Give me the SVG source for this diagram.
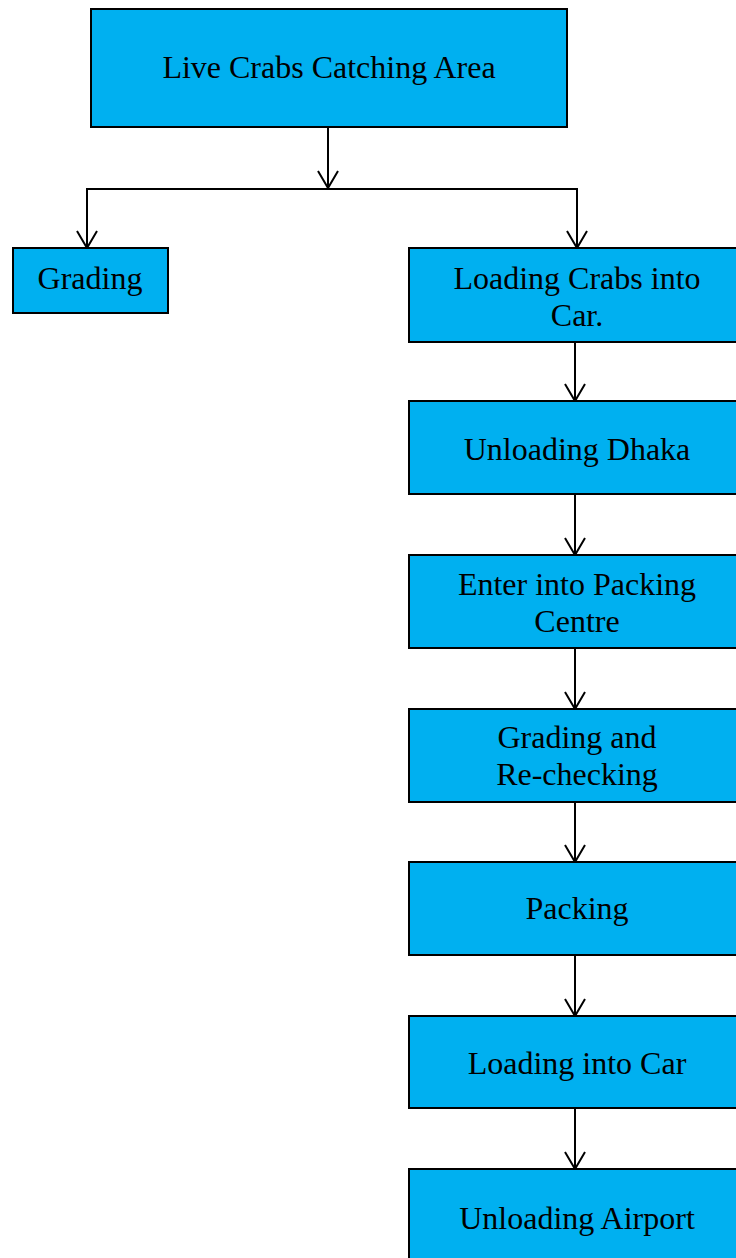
<svg xmlns="http://www.w3.org/2000/svg" width="736" height="1258" viewBox="0 0 736 1258">
<style>
.box{fill:#00B0F0;stroke:#000;stroke-width:2}
.t{font-family:"Liberation Serif","Times New Roman",serif;font-size:32px;fill:#000;text-anchor:middle}
.c{fill:none;stroke:#000;stroke-width:2}
</style>
<defs>
<marker id="ah" markerUnits="userSpaceOnUse" markerWidth="22" markerHeight="24" viewBox="-19 -12 22 24" refX="0" refY="0" orient="auto">
<path d="M-17,-10 L0,0 L-17,10" fill="none" stroke="#000" stroke-width="2"/>
</marker>
</defs>
<rect width="736" height="1258" fill="#fff"/>
<g id="connectors">
<path class="c" d="M328,127 V188" marker-end="url(#ah)"/>
<path class="c" d="M328,189 H87 V248" marker-end="url(#ah)"/>
<path class="c" d="M328,189 H577 V248" marker-end="url(#ah)"/>
<path class="c" d="M575,342 V401" marker-end="url(#ah)"/>
<path class="c" d="M575,494 V555" marker-end="url(#ah)"/>
<path class="c" d="M575,648 V709" marker-end="url(#ah)"/>
<path class="c" d="M575,802 V862" marker-end="url(#ah)"/>
<path class="c" d="M575,955 V1016" marker-end="url(#ah)"/>
<path class="c" d="M575,1108 V1169" marker-end="url(#ah)"/>
</g>
<g id="n1"><rect class="box" x="91" y="9" width="476" height="118"/><text class="t" x="329" y="78">Live Crabs Catching Area</text></g>
<g id="n2"><rect class="box" x="13" y="248" width="155" height="65"/><text class="t" x="90" y="289">Grading</text></g>
<g id="n3"><rect class="box" x="409" y="248" width="336" height="94"/><text class="t" x="577" y="289">Loading Crabs into</text><text class="t" x="577" y="326">Car.</text></g>
<g id="n4"><rect class="box" x="409" y="401" width="336" height="93"/><text class="t" x="577" y="460">Unloading Dhaka</text></g>
<g id="n5"><rect class="box" x="409" y="555" width="336" height="93"/><text class="t" x="577" y="595">Enter into Packing</text><text class="t" x="577" y="632">Centre</text></g>
<g id="n6"><rect class="box" x="409" y="709" width="336" height="93"/><text class="t" x="577" y="748">Grading and</text><text class="t" x="577" y="785">Re-checking</text></g>
<g id="n7"><rect class="box" x="409" y="862" width="336" height="93"/><text class="t" x="577" y="919">Packing</text></g>
<g id="n8"><rect class="box" x="409" y="1016" width="336" height="92"/><text class="t" x="577" y="1074">Loading into Car</text></g>
<g id="n9"><rect class="box" x="409" y="1169" width="336" height="100"/><text class="t" x="577" y="1229">Unloading Airport</text></g>
</svg>
